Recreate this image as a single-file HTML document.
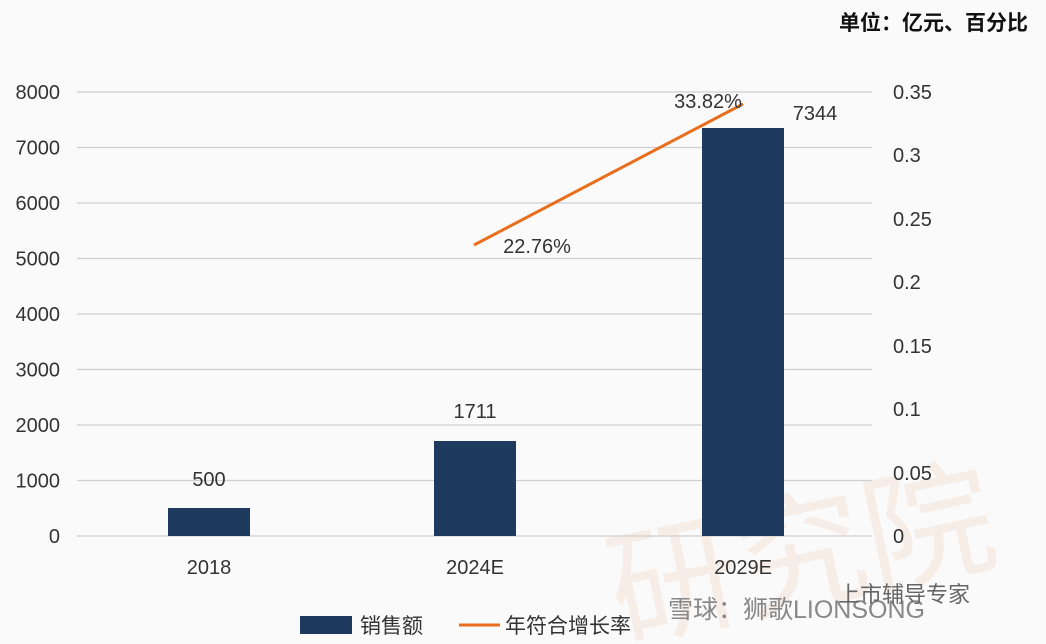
<!DOCTYPE html>
<html><head><meta charset="utf-8"><style>
html,body{margin:0;padding:0;background:#fafafb;}
svg{display:block;}
text{font-family:"Liberation Sans","Noto Sans CJK SC",sans-serif;fill:#333;}
</style></head><body>
<svg width="1046" height="644" viewBox="0 0 1046 644" xmlns="http://www.w3.org/2000/svg">
<rect width="1046" height="644" fill="#fafafb"/>
<text x="620" y="640" font-size="130" style="fill:#f6ede6" transform="rotate(-12 620 640)">研究院</text>
<g stroke="#cfcfcf" stroke-width="1.3">
<line x1="77" x2="872" y1="92" y2="92"/><line x1="77" x2="872" y1="147.5" y2="147.5"/>
<line x1="77" x2="872" y1="203" y2="203"/><line x1="77" x2="872" y1="258.5" y2="258.5"/>
<line x1="77" x2="872" y1="314" y2="314"/><line x1="77" x2="872" y1="369.5" y2="369.5"/>
<line x1="77" x2="872" y1="425" y2="425"/><line x1="77" x2="872" y1="480.5" y2="480.5"/>
<line x1="77" x2="872" y1="536" y2="536"/>
</g>
<g font-size="20" text-anchor="end">
<text x="60" y="99">8000</text><text x="60" y="154.5">7000</text><text x="60" y="210">6000</text>
<text x="60" y="265.5">5000</text><text x="60" y="321">4000</text><text x="60" y="376.5">3000</text>
<text x="60" y="432">2000</text><text x="60" y="487.5">1000</text><text x="60" y="543">0</text>
</g>
<g font-size="20">
<text x="893" y="99">0.35</text><text x="893" y="162">0.3</text><text x="893" y="226">0.25</text>
<text x="893" y="289">0.2</text><text x="893" y="353">0.15</text><text x="893" y="416">0.1</text>
<text x="893" y="480">0.05</text><text x="893" y="543">0</text>
</g>
<g fill="#1f3a5f">
<rect x="168" y="508" width="82" height="28"/>
<rect x="434" y="441" width="82" height="95"/>
<rect x="702" y="128" width="82" height="408"/>
</g>
<line x1="474" y1="245" x2="743" y2="104" stroke="#e86e1c" stroke-width="3"/>
<g font-size="20" text-anchor="middle">
<text x="209" y="486">500</text><text x="475" y="418">1711</text><text x="815" y="120">7344</text>
<text x="708" y="108">33.82%</text><text x="537" y="253">22.76%</text>
<text x="209" y="574">2018</text><text x="475" y="574">2024E</text><text x="743" y="574">2029E</text>
</g>
<text x="1028" y="30" font-size="21" font-weight="bold" text-anchor="end" style="fill:#111">单位：亿元、百分比</text>
<rect x="300" y="616" width="52" height="18" fill="#1f3a5f"/>
<text x="360" y="633" font-size="21">销售额</text>
<line x1="459" y1="625" x2="500" y2="625" stroke="#e86e1c" stroke-width="3"/>
<text x="505" y="633" font-size="21">年符合增长率</text>
<text x="668" y="618" font-size="25" style="fill:#888">雪球：狮歌LIONSONG</text>
<text x="838" y="602" font-size="22" style="fill:#666">上市辅导专家</text>
</svg>
</body></html>
